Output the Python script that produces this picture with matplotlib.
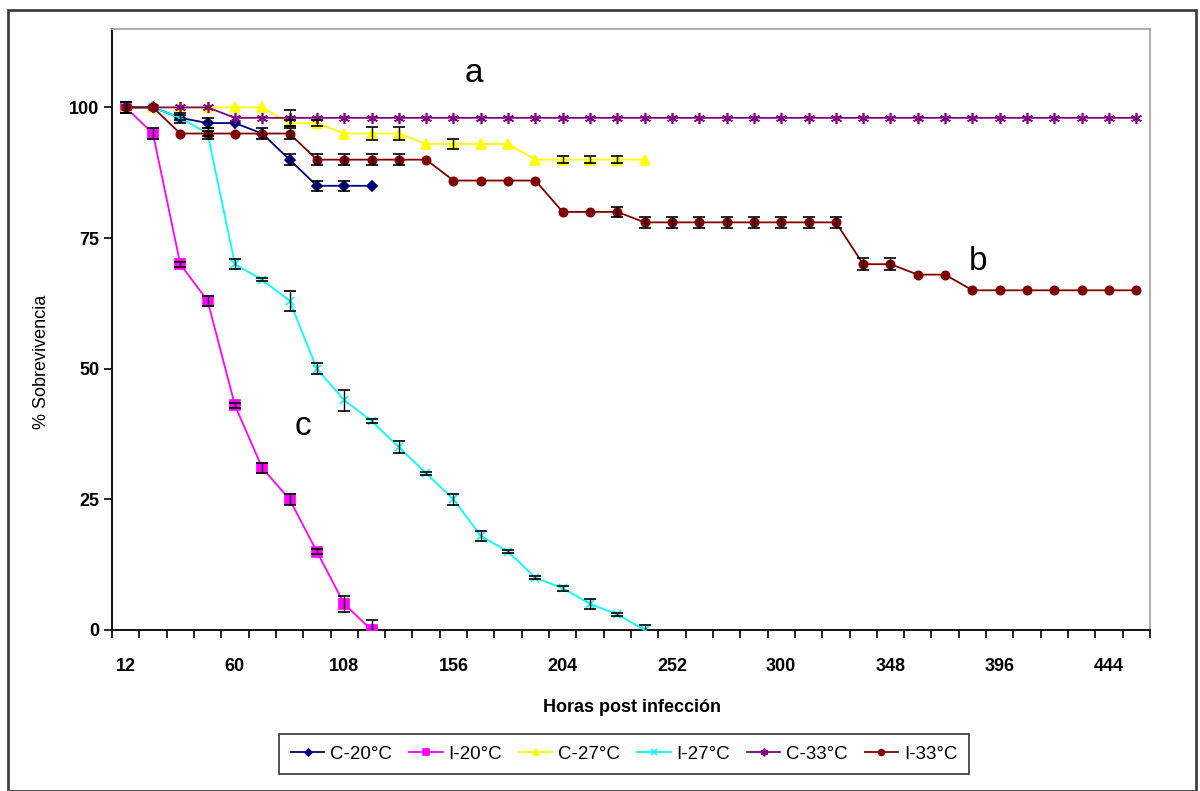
import numpy as np
import matplotlib.pyplot as plt
from matplotlib.patches import Rectangle

plt.rcParams['font.family'] = ['Liberation Sans', 'DejaVu Sans']

# horas post infeccion (categorias cada 12 h)
horas = list(range(12, 457, 12))

c20 = [100, 100, 98, 97, 97, 95, 90, 85, 85, 85]
c20_err = [1, 0, 1, 1, 0, 0, 1, 1, 1, 0]

i20 = [100, 95, 70, 63, 43, 31, 25, 15, 5, 0]
i20_err = [0, 1, 0.5, 1, 0.5, 1, 1, 0.5, 1.5, 2]

c27 = [100, 100, 100, 100, 100, 100, 97, 97, 95, 95, 95, 93, 93, 93, 93, 90, 90, 90, 90, 90]
c27_err = [0, 0, 0, 0, 0, 0, 0.5, 0.5, 0, 1.2, 1.2, 0, 1, 0, 0, 0, 0.7, 0.7, 0.7, 0]

i27 = [100, 100, 98, 95, 70, 67, 63, 50, 44, 40, 35, 30, 25, 18, 15, 10, 8, 5, 3, 0]
i27_err = [0, 0, 0.5, 0.5, 1, 0.3, 1.9, 1, 2, 0.3, 1.2, 0.3, 1, 1, 0.3, 0.3, 0.5, 1, 0.3, 1]

c33 = [100, 100, 100, 100] + [98] * 34
c33_err = [0] * 38
c33_err[6] = 1.5

i33 = ([100, 100] + [95] * 5 + [90] * 5 + [86] * 4 + [80] * 3 + [78] * 8
       + [70] * 2 + [68] * 2 + [65] * 7)
i33_err = [1, 0, 0, 1, 0, 1, 1, 1, 1, 1, 1, 0, 0, 0, 0, 0, 0, 0, 1] + [1] * 8 + [1.2, 1.2] + [0] * 9

series = [
    ('C-20°C', c20, c20_err, '#000080', 'D', 5),
    ('I-20°C', i20, i20_err, '#FF00FF', 's', 7),
    ('C-27°C', c27, c27_err, '#FFFF00', '^', 7),
    ('I-27°C', i27, i27_err, '#00FFFF', 'x', 6),
    ('C-33°C', c33, c33_err, '#800080', (6, 2, 0), 8),
    ('I-33°C', i33, i33_err, '#800000', 'o', 6),
]

fig = plt.figure(figsize=(12, 7.91), dpi=100)
ax = fig.add_axes([112 / 1200, 1 - 630 / 791, (1150 - 112) / 1200, (630 - 29) / 791])

for name, vals, err, col, mk, ms in series:
    x = np.arange(len(vals))
    ax.plot(x, vals, color=col, marker=mk, markersize=ms, linewidth=1.3,
            markeredgecolor=col, markeredgewidth=1.2, label=name, zorder=3)
    e = np.array(err, dtype=float)
    m = e > 0
    ax.errorbar(x[m], np.array(vals)[m], yerr=e[m], fmt='none', ecolor='black',
                elinewidth=1, capsize=4, capthick=1.2, zorder=4)

ax.set_xlim(-0.5, len(horas) - 0.5)
ax.set_ylim(0, 115)

ax.set_xticks(np.arange(0, len(horas), 4))
ax.set_xticklabels([str(h) for h in horas[::4]], fontsize=13, fontweight='bold')
ax.set_xticks(np.arange(-0.5, len(horas), 1), minor=True)
ax.tick_params(axis='x', which='major', length=0, pad=20)
ax.tick_params(axis='x', which='minor', length=6, width=1.2, direction='out')
ax.set_yticks([0, 25, 50, 75, 100])
ax.set_yticklabels(['0', '25', '50', '75', '100'], fontsize=13, fontweight='bold')
ax.tick_params(axis='y', length=6, width=1.2, direction='out', pad=3)

for s in ['top', 'right']:
    ax.spines[s].set_color('#a0a0a0')
    ax.spines[s].set_linewidth(1.2)
for s in ['left', 'bottom']:
    ax.spines[s].set_color('black')
    ax.spines[s].set_linewidth(1.3)

ax.text(12.75, 106.5, 'a', fontsize=24, ha='center', va='center')
ax.text(31.2, 70.5, 'b', fontsize=24, ha='center', va='center')
ax.text(6.5, 39, 'c', fontsize=24, ha='center', va='center')

fig.text(632 / 1200, 1 - 708 / 791, 'Horas post infección', fontsize=13,
         fontweight='bold', ha='center', va='center')
fig.text(42 / 1200, 1 - 362 / 791, '% Sobrevivencia', fontsize=13,
         rotation=90, ha='center', va='center')

leg = fig.legend(loc='center', bbox_to_anchor=(624 / 1200, 1 - 754 / 791), ncol=6,
                 fontsize=13.5, frameon=True, fancybox=False, edgecolor='black',
                 handlelength=1.8, handletextpad=0.3, columnspacing=0.9,
                 borderpad=0.6, borderaxespad=0, markerscale=0.7)
leg.get_frame().set_linewidth(1.2)

fig.patches.append(Rectangle((8 / 1200, 0), 1188 / 1200, 1 - 10 / 791,
                             transform=fig.transFigure, fill=False,
                             edgecolor='#404040', linewidth=2))

fig.savefig('out.png', dpi=100)
